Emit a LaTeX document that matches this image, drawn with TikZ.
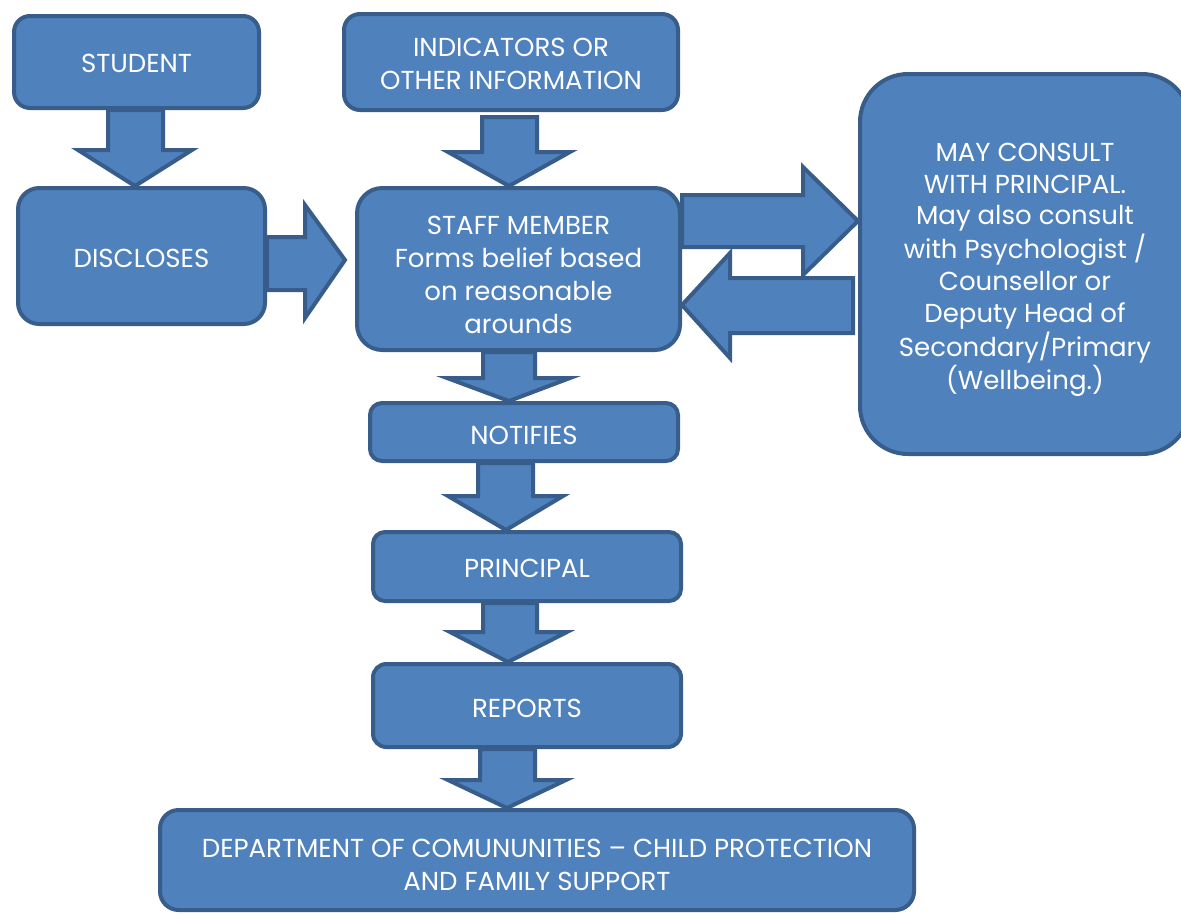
\documentclass[tikz,border=0pt]{standalone}
\usepackage{fontspec}
\setmainfont{Poppins}
\usetikzlibrary{calc}
\definecolor{boxfill}{HTML}{4F81BD}
\definecolor{boxline}{HTML}{385D8A}
\newcommand\boxtext[2]{\raisebox{#1}[\height][\depth]{\begin{tabular}{@{}c@{}}#2\end{tabular}}}
\tikzset{
  box/.style={draw=boxline, fill=boxfill, line width=3pt, text=white, align=center,
    inner sep=0pt, font=\fontsize{19.5}{24.75}\selectfont},
  blk/.style={draw=boxline, fill=boxfill, line width=3pt, line join=miter},
}
\begin{document}
\begin{tikzpicture}[x=0.75pt,y=-0.75pt]
\useasboundingbox (0,0) rectangle (1181,914);
% boxes
\node[box, minimum width=245*0.75pt, minimum height=92*0.75pt, rounded corners=12pt] (student) at (136.5,62) {\boxtext{-3pt}{STUDENT}};
\node[box, minimum width=334*0.75pt, minimum height=96*0.75pt, rounded corners=12pt] (indic) at (511,62) {\boxtext{-3pt}{INDICATORS OR\\OTHER INFORMATION}};
\node[box, minimum width=247*0.75pt, minimum height=136*0.75pt, rounded corners=16pt] (disc) at (141.5,256) {\boxtext{-3.5pt}{DISCLOSES}};
\node[box, minimum width=323*0.75pt, minimum height=162*0.75pt, rounded corners=19pt] (staff) at (518.5,269) {\boxtext{-6pt}{STAFF MEMBER\\Forms belief based\\on reasonable\\arounds}};
\node[box, minimum width=330*0.75pt, minimum height=380*0.75pt, rounded corners=36pt] (consult) at (1025,264) {\def\arraystretch{0.96}\boxtext{-4pt}{MAY CONSULT\\WITH PRINCIPAL.\\May also consult\\with Psychologist /\\Counsellor or\\Deputy Head of\\Secondary/Primary\\(Wellbeing.)}};
\node[box, minimum width=308*0.75pt, minimum height=58*0.75pt, rounded corners=9pt] (notif) at (524,432) {\boxtext{-4.5pt}{NOTIFIES}};
\node[box, minimum width=308*0.75pt, minimum height=69*0.75pt, rounded corners=9pt] (princ) at (527,566.5) {\boxtext{-3pt}{PRINCIPAL}};
\node[box, minimum width=308*0.75pt, minimum height=83*0.75pt, rounded corners=10pt] (reports) at (527,705.5) {\boxtext{-3.75pt}{REPORTS}};
\node[box, minimum width=754*0.75pt, minimum height=100*0.75pt, rounded corners=14pt] (dept) at (537,860) {\boxtext{-5.25pt}{DEPARTMENT OF COMUNUNITIES -- CHILD PROTECTION\\AND FAMILY SUPPORT}};
% block arrows
\draw[blk] (108,0 |- student.south) -- (108,150) -- (78,150) -- (135,0 |- disc.north) -- (192,150) -- (163,150) -- (163,0 |- student.south) -- cycle;
\draw[blk] (482,117) -- (482,152) -- (448,152) -- (509,0 |- staff.north) -- (570,152) -- (537,152) -- (537,117) -- cycle;
\draw[blk] (disc.east |- 0,237) -- (305,237) -- (305,205) -- (345,260) -- (305,318) -- (305,290) -- (disc.east |- 0,290) -- cycle;
\draw[blk] (staff.east |- 0,195) -- (803,195) -- (803,167) -- (consult.west |- 0,221) -- (803,275) -- (803,247) -- (staff.east |- 0,247) -- cycle;
\draw[blk] (853,278) -- (730,278) -- (730,253) -- (staff.east |- 0,305) -- (730,358) -- (730,333) -- (853,333) -- cycle;
\draw[blk] (483,0 |- staff.south) -- (483,378) -- (447,378) -- (509,0 |- notif.north) -- (570,378) -- (535,378) -- (535,0 |- staff.south) -- cycle;
\draw[blk] (478,0 |- notif.south) -- (478,496) -- (448,496) -- (506,0 |- princ.north) -- (563,496) -- (533,496) -- (533,0 |- notif.south) -- cycle;
\draw[blk] (483,0 |- princ.south) -- (483,632) -- (450,632) -- (508,0 |- reports.north) -- (567,632) -- (537,632) -- (537,0 |- princ.south) -- cycle;
\draw[blk] (480,0 |- reports.south) -- (480,780) -- (448,780) -- (507,0 |- dept.north) -- (566,780) -- (535,780) -- (535,0 |- reports.south) -- cycle;
\end{tikzpicture}
\end{document}
